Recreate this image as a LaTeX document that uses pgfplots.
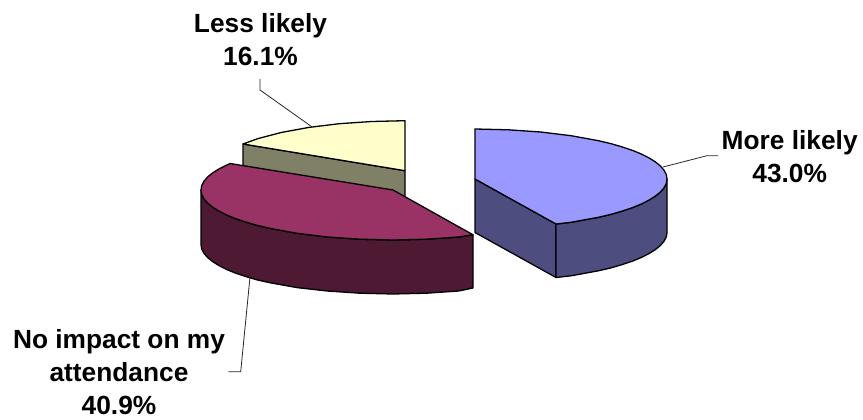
\documentclass[border=0pt]{standalone}
\usepackage{pgfplots}
\pgfplotsset{compat=1.18}
\usepackage{fontspec}
\setmainfont{Liberation Sans}
\definecolor{bluetop}{HTML}{9999FF}
\definecolor{blueside}{HTML}{4D4D80}
\definecolor{maroontop}{HTML}{993366}
\definecolor{maroonside}{HTML}{4D1933}
\definecolor{yellowtop}{HTML}{FFFFCC}
\definecolor{yellowside}{HTML}{808066}
\tikzset{pielabel/.style={font=\fontsize{26.3}{26.3}\selectfont\bfseries, anchor=base, inner sep=0pt}}
\begin{document}
\begin{tikzpicture}
\begin{axis}[
  scale only axis, width=863pt, height=420pt,
  xmin=0, xmax=863, ymin=0, ymax=420, y dir=reverse,
  axis lines=none, clip=false,
  every axis plot/.append style={line width=1.3pt, line join=round},
]
% Keep the full canvas in the bounding box
\path (axis cs:0,0) rectangle (axis cs:863,420);
% Less likely wedge: side wall, then top face
\addplot[draw=black, fill=yellowside] coordinates {(243,144) (405,170.7) (405,224) (243,197)} -- cycle;
\addplot[draw=black, fill=yellowtop] coordinates {(405,170.7) (405,120.7) (371.7,121.5) (339.3,123.7) (309,127.4) (281.6,132.4) (257.9,138.6) (243,144)} -- cycle;
% No impact wedge
\addplot[draw=black, fill=maroonside] coordinates {(201,190) (201.7,194.4) (203.9,198.7) (207.5,202.9) (212.6,207.1) (219,211.1) (226.7,215) (235.7,218.7) (245.9,222.1) (257.2,225.4) (269.6,228.3) (297,233.3) (327.3,237) (359.7,239.2) (393,240) (426.3,239.2) (458.7,237) (473,234.8) (473,288) (458.7,291) (426.3,293.2) (393,294) (359.7,293.2) (327.3,291) (297,287.6) (269.6,282.7) (257.2,279.9) (245.9,276.6) (235.7,273.2) (226.7,269.5) (219,265.6) (212.6,261.6) (207.5,257.4) (203.9,253.2) (201.7,248.9) (201,244.5)} -- cycle;
\addplot[draw=black, fill=maroontop] coordinates {(393,190) (230,163.5) (219,168.9) (212.6,172.9) (207.5,177.1) (203.9,181.3) (201.7,185.6) (201,190) (201.7,194.4) (203.9,198.7) (207.5,202.9) (212.6,207.1) (219,211.1) (226.7,215) (235.7,218.7) (245.9,222.1) (257.2,225.4) (269.6,228.3) (297,233.3) (327.3,237) (359.7,239.2) (393,240) (426.3,239.2) (458.7,237) (473,234.8)} -- cycle;
% More likely wedge
\addplot[draw=black, fill=blueside] coordinates {(475,179) (556,224) (556,277.5) (475,232.5)} -- cycle;
\addplot[draw=black, fill=blueside] coordinates {(556,224) (571,222.3) (598.4,217.3) (610.8,214.4) (622.1,211.1) (632.3,207.7) (641.3,204) (649,200.1) (655.4,196.1) (660.5,191.9) (664.1,187.7) (666.3,183.4) (667,179) (667,233) (666.3,236.9) (664.1,241.2) (660.5,245.4) (655.4,249.6) (649,253.6) (641.3,257.5) (632.3,261.2) (622.1,264.6) (610.8,267.9) (598.4,270.8) (571,275.8) (556,277.5)} -- cycle;
\addplot[draw=black, fill=bluetop] coordinates {(475,179) (475,129) (508.3,129.8) (540.7,132) (571,135.7) (598.4,140.7) (610.8,143.6) (622.1,146.9) (632.3,150.3) (641.3,154) (649,157.9) (655.4,161.9) (660.5,166.1) (664.1,170.3) (666.3,174.6) (667,179) (666.3,183.4) (664.1,187.7) (660.5,191.9) (655.4,196.1) (649,200.1) (641.3,204) (632.3,207.7) (622.1,211.1) (610.8,214.4) (598.4,217.3) (571,222.3) (556,224)} -- cycle;
% Leader lines
\addplot[draw=black!85, line width=0.8pt] coordinates {(311.7,126.7) (260,90) (260,79)};
\addplot[draw=black!85, line width=0.8pt] coordinates {(663,167) (707,155.7) (718,155.7)};
\addplot[draw=black!85, line width=0.8pt] coordinates {(250,277) (240.7,371.7) (228.3,371.7)};
% Labels
\node[pielabel] at (axis cs:260.5,32.5) {Less likely};
\node[pielabel] at (axis cs:260.5,65.5) {16.1\%};
\node[pielabel] at (axis cs:789.7,149.5) {More likely};
\node[pielabel] at (axis cs:789.7,182.5) {43.0\%};
\node[pielabel] at (axis cs:119,348.3) {No impact on my};
\node[pielabel] at (axis cs:119,381) {attendance};
\node[pielabel] at (axis cs:119,414) {40.9\%};
\end{axis}
\end{tikzpicture}
\end{document}
